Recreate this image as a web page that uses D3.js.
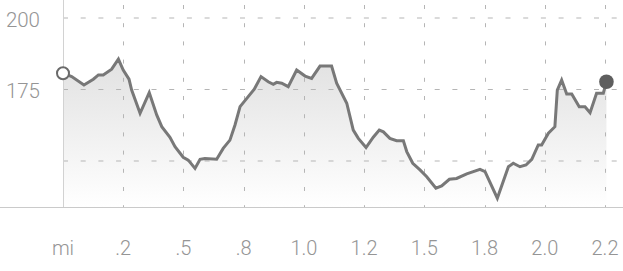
<!DOCTYPE html>
<html>
<head>
<meta charset="utf-8">
<script src="https://cdn.jsdelivr.net/npm/d3@7"></script>
<style>
  html, body { margin: 0; padding: 0; background: #fff; }
  svg { display: block; }
  text { font-family: Roboto, "Liberation Sans", sans-serif; font-weight: 300; fill: #959595; }
</style>
</head>
<body>
<svg id="chart" width="623" height="271"></svg>
<script>
// ---- data ----
const distance = [0.000, 0.036, 0.087, 0.126, 0.147, 0.167, 0.202, 0.230, 0.250, 0.274,
  0.285, 0.320, 0.358, 0.389, 0.410, 0.444, 0.465, 0.499, 0.520, 0.548,
  0.569, 0.589, 0.638, 0.665, 0.693, 0.714, 0.735, 0.763, 0.794, 0.822,
  0.852, 0.873, 0.887, 0.908, 0.935, 0.970, 1.005, 1.032, 1.067, 1.115,
  1.136, 1.178, 1.205, 1.226, 1.258, 1.288, 1.313, 1.330, 1.357, 1.385,
  1.413, 1.427, 1.452, 1.482, 1.510, 1.548, 1.572, 1.604, 1.634, 1.676,
  1.731, 1.752, 1.803, 1.849, 1.869, 1.897, 1.922, 1.946, 1.973, 1.987,
  2.015, 2.042, 2.052, 2.070, 2.091, 2.112, 2.143, 2.167, 2.188, 2.215,
  2.243, 2.256];
const elevation = [180.7, 179.5, 176.6, 178.6, 180.1, 180.1, 182.1, 185.6, 181.8, 178.6,
  174.8, 166.7, 173.9, 166.1, 162.0, 158.3, 155.0, 151.3, 150.3, 147.4,
  150.6, 150.9, 150.6, 154.4, 157.3, 162.6, 169.0, 171.9, 175.1, 179.5,
  177.7, 176.8, 177.5, 177.2, 176.0, 181.8, 179.7, 178.9, 183.2, 183.2,
  177.2, 170.2, 160.8, 157.9, 154.7, 158.3, 160.8, 160.2, 157.9, 157.1,
  157.1, 153.3, 149.2, 146.9, 144.5, 140.5, 141.3, 143.6, 143.9, 145.5,
  147.1, 146.3, 137.0, 148.0, 149.2, 148.0, 148.6, 150.6, 155.6, 155.6,
  159.7, 162.0, 174.8, 178.3, 173.4, 173.4, 169.0, 169.0, 166.9, 173.7,
  173.7, 177.7];
const xTickValues = [0, 0.25, 0.5, 0.75, 1.0, 1.25, 1.5, 1.75, 2.0, 2.25];
const xTickLabels = ["mi", ".2", ".5", ".8", "1.0", "1.2", "1.5", "1.8", "2.0", "2.2"];
const yTickValues = [150, 175, 200];
const yTickLabels = ["", "175", "200"];

// ---- layout ----
const W = 623, H = 271;
const left = 63, right = 605, baseY = 207;
const x = d3.scaleLinear().domain([0, 2.25]).range([left, right]);
const y = d3.scaleLinear().domain([150, 200]).range([161, 18]);

const svg = d3.select("#chart");
const data = distance.map((d, i) => ({ d, e: elevation[i] }));

// gradient
const defs = svg.append("defs");
const grad = defs.append("linearGradient").attr("id", "fillGrad")
  .attr("gradientUnits", "userSpaceOnUse")
  .attr("x1", 0).attr("x2", 0).attr("y1", y(186)).attr("y2", baseY);
grad.append("stop").attr("offset", 0).attr("stop-color", "#e1e1e1");
grad.append("stop").attr("offset", 1).attr("stop-color", "#ffffff");

// area
svg.append("path").datum(data)
  .attr("fill", "url(#fillGrad)")
  .attr("d", d3.area().x(p => x(p.d)).y0(baseY).y1(p => y(p.e)));

// horizontal gridlines
svg.append("g").selectAll("line").data(yTickValues).join("line")
  .attr("x1", left).attr("x2", W)
  .attr("y1", v => y(v)).attr("y2", v => y(v))
  .attr("stroke", "#b5b5b5").attr("stroke-width", 1)
  .attr("stroke-dasharray", "5,12.7");

// vertical gridlines
svg.append("g").selectAll("line").data(xTickValues.slice(1)).join("line")
  .attr("x1", v => Math.round(x(v)) + 0.5).attr("x2", v => Math.round(x(v)) + 0.5)
  .attr("y1", 0).attr("y2", baseY)
  .attr("stroke", "#b5b5b5").attr("stroke-width", 1)
  .attr("stroke-dasharray", "4,14.2").attr("stroke-dashoffset", 13.2);

// left axis line
svg.append("line")
  .attr("x1", left + 0.5).attr("x2", left + 0.5).attr("y1", 0).attr("y2", baseY)
  .attr("stroke", "#d2d2d2").attr("stroke-width", 1);

// baseline
svg.append("line")
  .attr("x1", 0).attr("x2", W).attr("y1", baseY + 0.5).attr("y2", baseY + 0.5)
  .attr("stroke", "#cacaca").attr("stroke-width", 1);

// line
svg.append("path").datum(data)
  .attr("fill", "none")
  .attr("stroke", "#787878").attr("stroke-width", 3)
  .attr("stroke-linejoin", "miter")
  .attr("d", d3.line().x(p => x(p.d)).y(p => y(p.e)));

// start / end markers
const first = data[0], last = data[data.length - 1];
svg.append("circle").attr("cx", x(first.d)).attr("cy", y(first.e)).attr("r", 6)
  .attr("fill", "#fff").attr("stroke", "#6a6a6a").attr("stroke-width", 2);
svg.append("circle").attr("cx", x(last.d)).attr("cy", y(last.e)).attr("r", 7.3)
  .attr("fill", "#5e5e5e");

// y labels
svg.append("g").selectAll("text").data(yTickValues).join("text")
  .attr("x", 40).attr("y", v => y(v) + 8.5)
  .attr("text-anchor", "end")
  .attr("font-size", 20.5)
  .text((v, i) => yTickLabels[i]);

// x labels
svg.append("g").selectAll("text").data(xTickValues).join("text")
  .attr("x", v => x(v)).attr("y", 254.5)
  .attr("text-anchor", "middle")
  .attr("font-size", 20)
  .text((v, i) => xTickLabels[i]);
</script>
</body>
</html>
